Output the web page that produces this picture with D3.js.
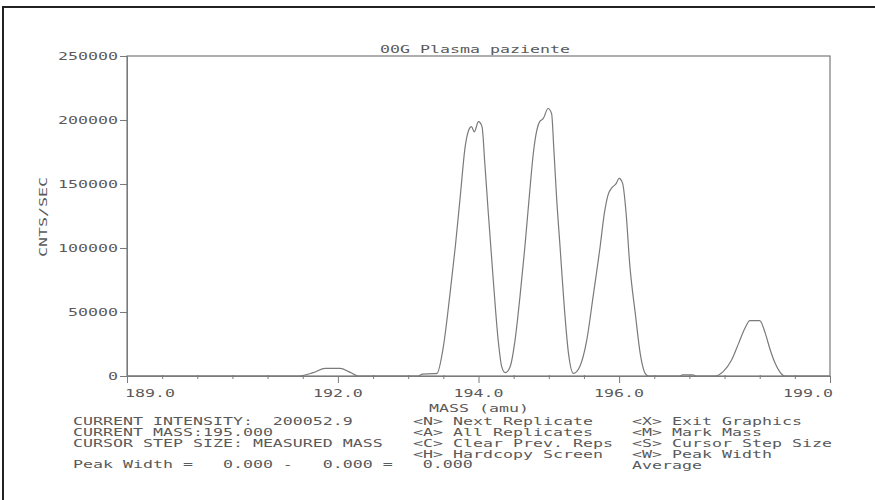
<!DOCTYPE html>
<html><head><meta charset="utf-8">
<script src="https://cdn.jsdelivr.net/npm/d3@7"></script>
<style>body{margin:0;background:#fff}svg{display:block}</style>
</head><body><svg id="c" width="875" height="500"></svg>
<script>
const title = "00G Plasma paziente";
const yLabel = "CNTS/SEC";
const xLabel = "MASS (amu)";
const yTicks = [0, 50000, 100000, 150000, 200000, 250000];
const xTicks = [189, 192, 194, 196, 199];
const mass = [189.0,191.45,191.65,191.82,192.03,192.17,192.29,193.15,193.2,193.36,193.41,193.50,193.59,193.67,193.74,193.81,193.86,193.90,193.94,194.00,194.05,194.09,194.14,194.21,194.28,194.33,194.38,194.45,194.52,194.59,194.66,194.73,194.78,194.83,194.87,194.92,194.99,195.04,195.07,195.11,195.16,195.22,195.28,195.35,195.44,195.54,195.63,195.73,195.79,195.85,195.89,195.96,196.00,196.05,196.10,196.15,196.23,196.30,196.37,196.42,196.87,196.9,197.05,197.1,197.36,197.48,197.60,197.70,197.79,197.86,198.00,198.08,198.15,198.22,198.31,198.36,199.0];
const intensity = [0,0,2600,6000,6000,3000,0,0,1500,1800,2100,22900,62000,101000,140000,179000,192000,194800,190800,198700,194800,166000,127000,75000,28000,7300,2600,7300,28000,62000,101000,145000,174000,192000,198700,201000,209000,205000,179000,140000,101000,54000,17700,2100,7300,28000,62000,101000,127000,142700,146600,150500,154400,150500,127000,88000,49000,17700,2100,0,0,900,900,0,0,3400,12500,25500,37300,43200,43200,33300,20300,9900,1600,0,0];
const infoLines = ["CURRENT INTENSITY:  200052.9","CURRENT MASS:195.000","CURSOR STEP SIZE: MEASURED MASS"];
const peakLine = "Peak Width =   0.000 -   0.000 =   0.000";
const menu1 = ["<N> Next Replicate","<A> All Replicates","<C> Clear Prev. Reps","<H> Hardcopy Screen"];
const menu2 = ["<X> Exit Graphics","<M> Mark Mass","<S> Cursor Step Size","<W> Peak Width","Average"];

const svg = d3.select("#c");
const L = 127, R = 830, T = 56, B = 376;
const x = d3.scaleLinear().domain([189, 199]).range([L, R]);
const y = d3.scaleLinear().domain([0, 250000]).range([B, T]);
const gray = "#7a7a7a", tcol = "#5a5a5a";

// outer border
svg.append("path").attr("d", `M3,500 V7 H875`).attr("fill","none").attr("stroke","#222").attr("stroke-width",2);

function txt(s, px, py, anchor) {
  const n = s.length, w = n * 10;
  let x0 = px;
  if (anchor === "middle") x0 = px - w/2;
  if (anchor === "end") x0 = px - w;
  svg.append("text").attr("transform", `translate(${x0},${py}) scale(1.51,1)`)
    .attr("font-family","DejaVu Sans Mono").attr("font-size",11).attr("fill",tcol)
    .style("white-space","pre").attr("xml:space","preserve").text(s);
}

// frame
svg.append("rect").attr("x",L).attr("y",T).attr("width",R-L).attr("height",B-T)
  .attr("fill","none").attr("stroke",gray).attr("stroke-width",1.2);

// y axis
const yAxis = svg.append("g").attr("transform",`translate(${L},0)`)
  .call(d3.axisLeft(y).tickValues(yTicks).tickSize(7).tickFormat(""));
yAxis.select(".domain").attr("stroke",gray);
yAxis.selectAll("line").attr("stroke",gray);
yTicks.forEach(v => txt(String(v), 118, y(v)+4, "end"));

// x axis
const minor = d3.range(189, 199.01, 0.5).filter(v => !xTicks.includes(v));
const xMinor = svg.append("g").attr("transform",`translate(0,${B})`)
  .call(d3.axisBottom(x).tickValues(minor).tickSize(3).tickFormat(""));
xMinor.select(".domain").remove();
xMinor.selectAll("line").attr("stroke",gray).attr("y1",-1);
const xAxis = svg.append("g").attr("transform",`translate(0,${B})`)
  .call(d3.axisBottom(x).tickValues(xTicks).tickSize(7).tickFormat(""));
xAxis.select(".domain").attr("stroke",gray);
xAxis.selectAll("line").attr("stroke",gray);
xTicks.forEach((v,i) => {
  const a = i === 0 ? "start" : (i === xTicks.length-1 ? "end" : "middle");
  txt(d3.format(".1f")(v), x(v) + (i===0?-2:(i===xTicks.length-1?3:0)), 397, a);
});

// spectrum
const pts = mass.map((m,i) => [m, intensity[i]]);
svg.append("path").datum(pts)
  .attr("d", d3.line().x(d => x(d[0])).y(d => y(d[1])).curve(d3.curveMonotoneX))
  .attr("fill","none").attr("stroke",gray).attr("stroke-width",1.2);

// title & labels
txt(title, 475, 53, "middle");
svg.append("text").attr("transform",`translate(47,257) rotate(-90) scale(1.51,1)`)
  .attr("font-family","DejaVu Sans Mono").attr("font-size",11).attr("fill",tcol).text(yLabel);
txt(xLabel, 479, 412, "middle");

infoLines.forEach((s,i) => txt(s, 73, 425 + i*11));
txt(peakLine, 73, 468);
menu1.forEach((s,i) => txt(s, 413, 425 + i*11));
menu2.forEach((s,i) => txt(s, 632, 425 + i*11));
</script></body></html>
